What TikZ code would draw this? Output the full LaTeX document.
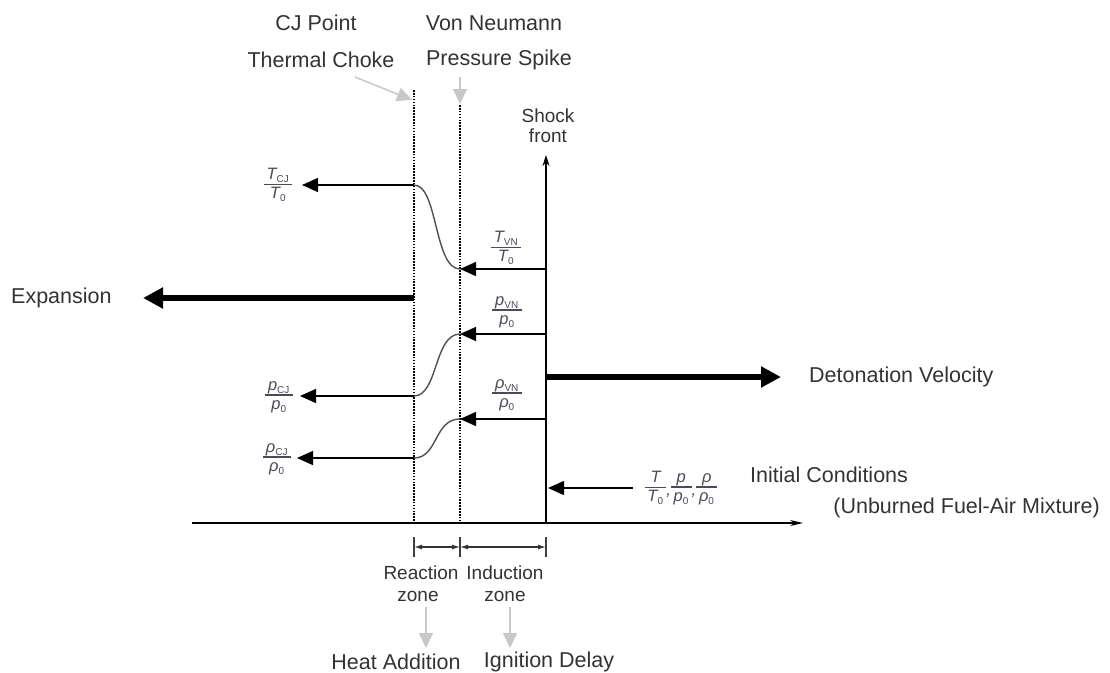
\documentclass[tikz,border=0pt]{standalone}
\usepackage{fontspec}
\usepackage{amsmath}
\setmainfont{Liberation Sans}
\usetikzlibrary{arrows.meta}
\definecolor{txt}{HTML}{333333}
\definecolor{frc}{HTML}{4A4A58}
\definecolor{lgray}{HTML}{C8C8C8}
\definecolor{crv}{HTML}{505050}
\newcommand{\fr}[2]{\begin{tabular}{@{\,}c@{\,}}#1\\[-1pt]\hline\rule{0pt}{14pt}#2\end{tabular}}
\newcommand{\sbs}[1]{\textsubscript{\upshape\fontsize{10}{11}\selectfont #1}}
\begin{document}
\begin{tikzpicture}[x=1pt,y=-1pt,
  lbl/.style={inner sep=0pt,text=txt,font=\fontsize{21.5}{24}\selectfont},
  sml/.style={inner sep=0pt,text=txt,font=\fontsize{19}{22}\selectfont},
  frac/.style={inner sep=0pt,text=frc,font=\fontsize{16.5}{17}\selectfont\itshape\setlength{\arrayrulewidth}{1.3pt}\setlength{\tabcolsep}{0pt}\renewcommand{\arraystretch}{0.9}},
  thin/.style={line width=1.4pt,draw=black,-{Triangle[length=16pt,width=14pt]}},
  thick/.style={line width=6pt,draw=black,-{Triangle[length=20pt,width=20pt]}},
  dotline/.style={line width=2.2pt,dash pattern=on 1.6pt off 1.3pt},
  garrow/.style={line width=1.5pt,draw=lgray,-{Triangle[length=15pt,width=14pt]}},
  crvline/.style={line width=1.4pt,draw=crv},
  zone/.style={line width=1.2pt,draw=black!80,{Latex[length=8pt,width=5pt]}-{Latex[length=8pt,width=5pt]}}
]
\useasboundingbox (0,0) rectangle (1110,672);
% coordinates
\coordinate (axL) at (192,523); \coordinate (axR) at (803,523);
\coordinate (cjT) at (414,90);  \coordinate (cjB) at (414,523);
\coordinate (vnT) at (460,105); \coordinate (vnB) at (460,523);
\coordinate (sfB) at (546,523); \coordinate (sfT) at (546,155);
% axis
\draw[line width=1.4pt,-{Stealth[length=13pt,width=6pt]}] (axL) -- (axR);
% dotted lines
\draw[dotline] (cjT) -- (cjB);
\draw[dotline] (vnT) -- (vnB);
% shock front
\draw[line width=1.4pt,-{Stealth[length=11pt,width=7pt]}] (sfB) -- (sfT);
\node[sml,align=center] (shock) at (548,126) {Shock\\[-2pt]front};
% top labels
\node[lbl] (cjp) at (316,23) {CJ Point};
\node[lbl] (tch) at (321,60) {Thermal Choke};
\node[lbl] (vnm) at (494,23) {Von Neumann};
\node[lbl] (psp) at (499,60) {Pressure Spike};
\coordinate (g1s) at (355,77); \coordinate (g1e) at (412,100);
\coordinate (g2s) at (460,77); \coordinate (g2e) at (460,104);
\draw[garrow] (g1s) -- (g1e);
\draw[garrow] (g2s) -- (g2e);
% fractions
\node[frac] (tcj) at (278,186) {\fr{T\sbs{CJ}}{T\sbs{0}}};
\node[frac] (tvn) at (506,249) {\fr{T\sbs{VN}}{T\sbs{0}}};
\node[frac] (pvn) at (507,312) {\fr{p\sbs{VN}}{p\sbs{0}}};
\node[frac] (pcj) at (279,397) {\fr{p\sbs{CJ}}{p\sbs{0}}};
\node[frac] (rvn) at (507,395) {\fr{ρ\sbs{VN}}{ρ\sbs{0}}};
\node[frac] (rcj) at (277,459) {\fr{ρ\sbs{CJ}}{ρ\sbs{0}}};
\node[frac] (ini) at (681,489) {\fr{T}{T\sbs{0}}\raisebox{-2pt}{,}\fr{p}{p\sbs{0}}\raisebox{-2pt}{,}\fr{ρ}{ρ\sbs{0}}};
% CJ-side arrows
\coordinate (a1s) at (414,185); \coordinate (a1e) at (302,185);
\coordinate (a2s) at (414,396); \coordinate (a2e) at (300,396);
\coordinate (a3s) at (414,458); \coordinate (a3e) at (297,458);
\draw[thin] (a1s) -- (a1e);
\draw[thin] (a2s) -- (a2e);
\draw[thin] (a3s) -- (a3e);
% VN-side arrows
\coordinate (b1s) at (546,269); \coordinate (b1e) at (460,269);
\coordinate (b2s) at (546,334); \coordinate (b2e) at (460,334);
\coordinate (b3s) at (546,419); \coordinate (b3e) at (460,419);
\draw[thin] (b1s) -- (b1e);
\draw[thin] (b2s) -- (b2e);
\draw[thin] (b3s) -- (b3e);
% transition curves
\draw[crvline] (a1s) .. controls (438,185) and (434,269) .. (b1e);
\draw[crvline] (a2s) .. controls (438,396) and (434,334) .. (b2e);
\draw[crvline] (a3s) .. controls (438,458) and (434,419) .. (b3e);
% initial conditions arrow
\coordinate (ics) at (633,488); \coordinate (ice) at (548,488);
\draw[thin] (ics) -- (ice);
\node[lbl,anchor=west] (icl) at (750,475) {Initial Conditions};
\node[lbl,anchor=east] (ufa) at (1100,508) {(Unburned Fuel-Air Mixture)};
% thick arrows
\coordinate (exs) at (414,298); \coordinate (exe) at (143,298);
\draw[thick] (exs) -- (exe);
\node[lbl,anchor=west] (exp) at (11,298) {Expansion};
\coordinate (dvs) at (547,377); \coordinate (dve) at (781,377);
\draw[thick] (dvs) -- (dve);
\node[lbl,anchor=west] (dvl) at (809,377) {Detonation Velocity};
% zones
\coordinate (z1t) at (414,537); \coordinate (z1b) at (414,557);
\coordinate (z2t) at (460,537); \coordinate (z2b) at (460,557);
\coordinate (z3t) at (546,537); \coordinate (z3b) at (546,557);
\draw[line width=1.2pt,draw=black!75] (z1t) -- (z1b) (z2t) -- (z2b) (z3t) -- (z3b);
\coordinate (z1) at (414,547); \coordinate (z2) at (460,547); \coordinate (z3) at (546,547);
\draw[zone] (z1) -- (z2);
\draw[zone] (z2) -- (z3);
\node[sml] (rz1) at (421,573) {Reaction};
\node[sml] (rz2) at (418,596) {zone};
\node[sml] (iz1) at (505,573) {Induction};
\node[sml] (iz2) at (505,596) {zone};
\coordinate (g3s) at (426,607); \coordinate (g3e) at (426,648);
\coordinate (g4s) at (510,607); \coordinate (g4e) at (510,648);
\draw[garrow] (g3s) -- (g3e);
\draw[garrow] (g4s) -- (g4e);
\node[lbl] (hta) at (396,662) {Heat Addition};
\node[lbl] (igd) at (549,662) {Ignition Delay};
\end{tikzpicture}
\end{document}
